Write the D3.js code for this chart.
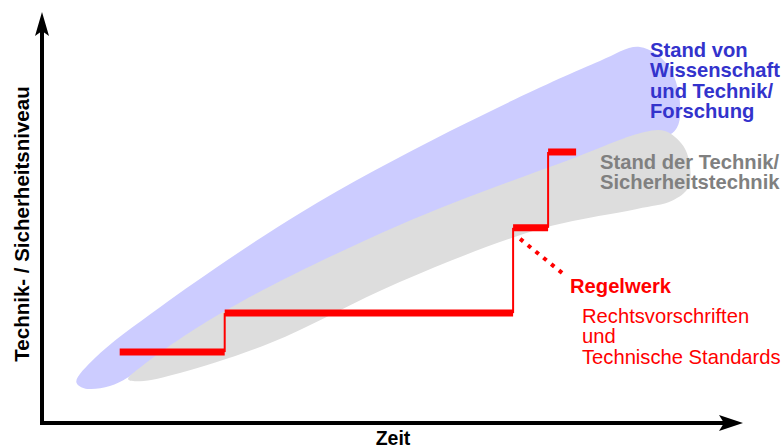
<!DOCTYPE html>
<html>
<head>
<meta charset="utf-8">
<script src="https://cdn.jsdelivr.net/npm/d3@7"></script>
<style>
    body { margin: 0; background: #fff; }
    svg { display: block; font-family: "Liberation Sans", Arial, Helvetica, sans-serif; }
</style>
</head>
<body>
<svg id="graphics-canvas" width="783" height="448"></svg>
<script>
// outlines in chart units (Zeit 0..100, Niveau 0..100)
var wissenschaft = [
    [4.9, 10.0], [7.6, 15.9], [16.9, 28.3], [36.9, 51.2], [58.3, 71.2], [79.7, 88.3],
    [85.4, 91.7], [89.4, 87.3], [91.1, 78.8], [90.7, 72.0], [88.3, 69.0], [65.4, 53.2],
    [36.9, 32.4], [15.4, 14.2], [9.7, 9.0], [6.0, 8.5]
];

var technik = [
    [12.3, 10.7], [14.3, 13.9], [26.4, 27.6], [51.1, 48.3], [75.9, 64.6], [86.1, 71.0],
    [89.0, 71.2], [91.6, 67.6], [92.6, 62.2], [92.3, 57.3], [90.0, 54.2], [85.0, 52.2],
    [71.1, 47.3], [51.1, 34.4], [32.6, 19.5], [19.7, 12.2], [14.0, 10.2]
];

// Regelwerk steps: breakpoints in time, level of each step
var regelZeit = [11.1, 26.1, 67.3, 72.3, 76.3];
var regelNiveau = [17.3, 26.8, 47.6, 66.1];

// dotted pointer from the step to the label
var zeiger = [[68.3, 44.9], [74.3, 36.6]];

var blauText = ["Stand von", "Wissenschaft", "und Technik/", "Forschung"];
var grauText = ["Stand der Technik/", "Sicherheitstechnik"];
var rotText = ["Rechtsvorschriften", "und", "Technische Standards"];

var svg = d3.select("#graphics-canvas");

var x = d3.scaleLinear().domain([0, 100]).range([42, 742]);
var y = d3.scaleLinear().domain([0, 100]).range([423, 13]);

var blob = d3.line()
    .x(function(d) { return x(d[0]); })
    .y(function(d) { return y(d[1]); })
    .curve(d3.curveCatmullRomClosed.alpha(0.5));

svg.append("path")
    .attr("d", blob(wissenschaft))
    .attr("fill", "#ccccff");

svg.append("path")
    .attr("d", blob(technik))
    .attr("fill", "#dddddd");

// red steps: thick horizontals, thin risers
var steps = regelNiveau.map(function(n, i) {
    return { x0: regelZeit[i], x1: regelZeit[i + 1], n: n };
});

svg.selectAll("line.riser")
    .data(steps.slice(1))
    .enter()
    .append("line")
    .attr("class", "riser")
    .attr("x1", function(d) { return x(d.x0); })
    .attr("x2", function(d) { return x(d.x0); })
    .attr("y1", function(d, i) { return y(steps[i].n); })
    .attr("y2", function(d) { return y(d.n); })
    .attr("stroke", "#ff0000")
    .attr("stroke-width", 2);

svg.selectAll("line.step")
    .data(steps)
    .enter()
    .append("line")
    .attr("class", "step")
    .attr("x1", function(d) { return x(d.x0); })
    .attr("x2", function(d) { return x(d.x1); })
    .attr("y1", function(d) { return y(d.n); })
    .attr("y2", function(d) { return y(d.n); })
    .attr("stroke", "#ff0000")
    .attr("stroke-width", 7);

svg.append("line")
    .attr("x1", x(zeiger[0][0]))
    .attr("y1", y(zeiger[0][1]))
    .attr("x2", x(zeiger[1][0]))
    .attr("y2", y(zeiger[1][1]))
    .attr("stroke", "#ff0000")
    .attr("stroke-width", 4)
    .attr("stroke-dasharray", "4,6");

// axes with arrow heads
svg.append("line")
    .attr("x1", x(0)).attr("y1", y(0) + 2)
    .attr("x2", x(0)).attr("y2", y(100) + 15)
    .attr("stroke", "#000").attr("stroke-width", 4);
svg.append("line")
    .attr("x1", x(0) - 2).attr("y1", y(0))
    .attr("x2", x(100) - 15).attr("y2", y(0))
    .attr("stroke", "#000").attr("stroke-width", 4);

svg.append("path")
    .attr("d", "M" + x(0) + "," + (y(100) - 1) + "l-7,24l7,-5l7,5z")
    .attr("fill", "#000");
svg.append("path")
    .attr("d", "M" + (x(100) + 1) + "," + y(0) + "l-24,-8l5,8l-5,8z")
    .attr("fill", "#000");

svg.append("text")
    .attr("x", 393)
    .attr("y", 445)
    .attr("text-anchor", "middle")
    .attr("font-weight", "bold")
    .attr("font-size", 19.5)
    .text("Zeit");

svg.append("text")
    .attr("transform", "translate(29,224) rotate(-90)")
    .attr("text-anchor", "middle")
    .attr("font-weight", "bold")
    .attr("font-size", 20.5)
    .text("Technik- / Sicherheitsniveau");

function block(lines, px, py, color, weight) {
    svg.append("text")
        .attr("x", px)
        .attr("y", py)
        .attr("fill", color)
        .attr("font-weight", weight)
        .attr("font-size", 20.2)
        .selectAll("tspan")
        .data(lines)
        .enter()
        .append("tspan")
        .attr("x", px)
        .attr("dy", function(d, i) { return i ? 20.3 : 0; })
        .text(function(d) { return d; });
}

block(blauText, 650, 57, "#3333cc", "bold");
block(grauText, 600, 169, "#808080", "bold");
block(["Regelwerk"], 570, 293, "#ff0000", "bold");
block(rotText, 582, 323, "#ff0000", "normal");
</script>
</body>
</html>
